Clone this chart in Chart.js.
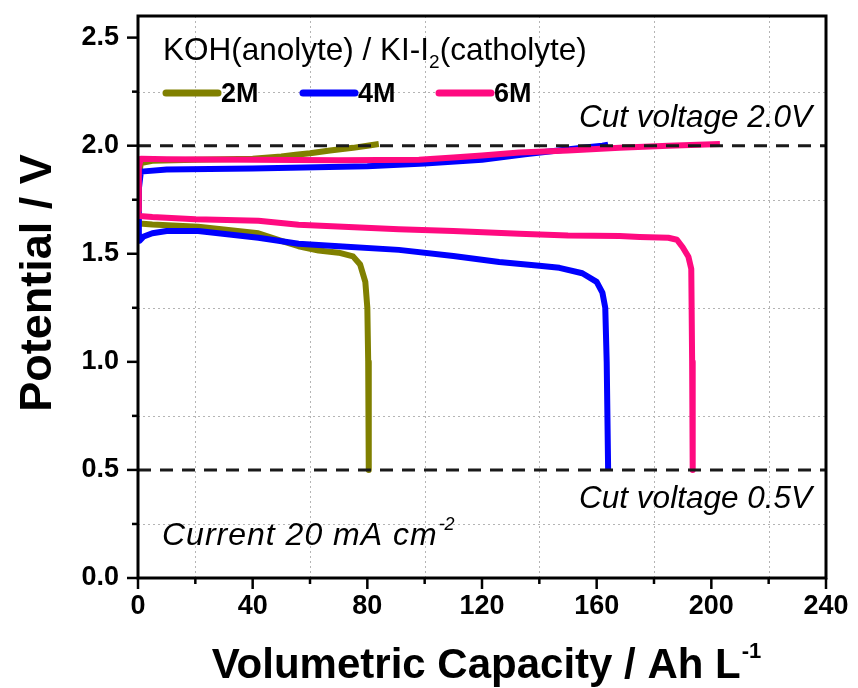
<!DOCTYPE html>
<html><head><meta charset="utf-8">
<script src="https://cdn.jsdelivr.net/npm/chart.js@4.4.1/dist/chart.umd.min.js"></script>
<style>html,body{margin:0;padding:0;background:#fff}</style>
</head><body>
<canvas id="c" width="858" height="688"></canvas>
<script>
// ---- data ----
const seriesNames = ['2M', '4M', '6M'];
const seriesColors = ['#808000', '#0000FF', '#FF0A80'];

const cap2MCharge  = [0, 0.3, 1, 5, 20, 40, 50, 55, 60, 67, 75, 80, 84];
const volt2MCharge = [1.72, 1.86, 1.92, 1.93, 1.935, 1.94, 1.95, 1.958, 1.965, 1.978, 1.99, 2.0, 2.008];
const cap2MDis     = [0, 0.5, 5, 21, 42, 50, 56, 63, 70, 75, 77.5, 79.3, 80, 80.3, 80.5];
const volt2MDis    = [1.66, 1.64, 1.635, 1.625, 1.595, 1.56, 1.535, 1.515, 1.505, 1.488, 1.45, 1.37, 1.25, 1.0, 0.5];

const cap4MCharge  = [0, 0.3, 1, 10, 40, 80, 100, 120, 135, 145, 155, 162, 164];
const volt4MCharge = [1.58, 1.80, 1.88, 1.89, 1.895, 1.905, 1.918, 1.935, 1.96, 1.975, 1.99, 2.0, 2.005];
const cap4MDis     = [0, 0.5, 2, 5, 10, 21, 42, 56, 70, 91, 110, 126, 140, 147, 155, 160, 162, 163, 163.5, 164];
const volt4MDis    = [1.60, 1.56, 1.58, 1.595, 1.605, 1.605, 1.574, 1.546, 1.535, 1.518, 1.49, 1.462, 1.445, 1.435, 1.41, 1.37, 1.32, 1.25, 1.0, 0.5];

const cap6MCharge  = [0, 0.3, 1, 10, 40, 70, 98, 110, 120, 133, 150, 168, 185, 203];
const volt6MCharge = [1.70, 1.90, 1.94, 1.937, 1.935, 1.933, 1.935, 1.945, 1.955, 1.968, 1.978, 1.99, 2.0, 2.008];
const cap6MDis     = [0, 0.5, 5, 20, 42, 56, 91, 110, 133, 150, 168, 175, 185, 188, 190, 192, 193, 193.3, 193.5];
const volt6MDis    = [1.69, 1.675, 1.67, 1.66, 1.653, 1.634, 1.613, 1.605, 1.593, 1.585, 1.582, 1.578, 1.574, 1.565, 1.53, 1.486, 1.43, 1.0, 0.5];

const cutVoltages = [2.0, 0.5];
const xMin = 0, xMax = 240, xMajor = 40, xMinor = 20;
const yMin = 0, yMax = 2.6, yMajor = 0.5, yMinor = 0.25, yLastTick = 2.5;

// ---- build datasets ----
const pairs = (xs, ys) => xs.map((x, i) => ({x, y: ys[i]}));
const curves = [
  [cap2MCharge, volt2MCharge, cap2MDis, volt2MDis],
  [cap4MCharge, volt4MCharge, cap4MDis, volt4MDis],
  [cap6MCharge, volt6MCharge, cap6MDis, volt6MDis]
];
const datasets = [];
curves.forEach((c, i) => {
  const common = {borderColor: seriesColors[i], backgroundColor: seriesColors[i], borderWidth: 6,
    pointRadius: 0, tension: 0, fill: false, order: 3 - i, borderCapStyle: 'butt', borderJoinStyle: 'round'};
  datasets.push(Object.assign({label: seriesNames[i] + ' charge', data: pairs(c[0], c[1])}, common));
  datasets.push(Object.assign({label: seriesNames[i] + ' discharge', data: pairs(c[2], c[3])}, common));
});
cutVoltages.forEach(v => {
  datasets.push({label: 'cut ' + v, data: [{x: xMin, y: v}, {x: xMax, y: v}], borderColor: '#1a1a1a',
    borderWidth: 3, borderDash: [13, 9], pointRadius: 0, order: 0, fill: false});
});

const near = (a, b) => Math.abs(a - b) < 1e-6;
const isMult = (v, s) => near(v / s, Math.round(v / s));

const FONT = '"Liberation Sans", Arial, sans-serif';

function zeroPad(s) { s.paddingTop = 0; s.paddingBottom = 0; s.paddingLeft = 0; s.paddingRight = 0; }

const deco = {
  id: 'deco',
  beforeDatasetsDraw(chart) {
    // dotted grid at minor positions
    const ctx = chart.ctx, a = chart.chartArea, xs = chart.scales.x, ys = chart.scales.y;
    ctx.save();
    ctx.strokeStyle = '#b4b4b4'; ctx.lineWidth = 1; ctx.setLineDash([2, 3]);
    for (let v = xMin + xMinor; v < xMax; v += xMajor) {
      const p = Math.round(xs.getPixelForValue(v)) + 0.5;
      ctx.beginPath(); ctx.moveTo(p, a.top); ctx.lineTo(p, a.bottom); ctx.stroke();
    }
    for (let v = yMin + yMinor; v < yLastTick; v += yMajor) {
      const p = Math.round(ys.getPixelForValue(v)) + 0.5;
      ctx.beginPath(); ctx.moveTo(a.left, p); ctx.lineTo(a.right, p); ctx.stroke();
    }
    ctx.restore();
  },
  afterDraw(chart) {
    const ctx = chart.ctx, a = chart.chartArea, xs = chart.scales.x, ys = chart.scales.y;
    ctx.save();
    // frame
    ctx.strokeStyle = '#000'; ctx.lineWidth = 3;
    ctx.strokeRect(a.left, a.top, a.right - a.left, a.bottom - a.top);
    // tick marks
    ctx.lineWidth = 2.5;
    for (let v = xMin; v <= xMax + 1e-6; v += xMinor) {
      const p = xs.getPixelForValue(v), len = isMult(v, xMajor) ? 11 : 6;
      ctx.beginPath(); ctx.moveTo(p, a.bottom); ctx.lineTo(p, a.bottom + len); ctx.stroke();
    }
    for (let v = yMin; v <= yLastTick + 1e-6; v += yMinor) {
      const p = ys.getPixelForValue(v), len = isMult(v, yMajor) ? 11 : 6;
      ctx.beginPath(); ctx.moveTo(a.left, p); ctx.lineTo(a.left - len, p); ctx.stroke();
    }
    ctx.fillStyle = '#000';
    ctx.textBaseline = 'alphabetic';
    // x axis title
    const t1 = 'Volumetric Capacity / Ah L';
    ctx.font = 'bold 42px ' + FONT;
    const w1 = ctx.measureText(t1).width;
    ctx.font = 'bold 22px ' + FONT;
    const w2 = ctx.measureText('-1').width;
    let x0 = 486 - (w1 + w2) / 2;
    ctx.font = 'bold 42px ' + FONT; ctx.textAlign = 'left';
    ctx.fillText(t1, x0, 678);
    ctx.font = 'bold 22px ' + FONT;
    ctx.fillText('-1', x0 + w1 + 1, 658);
    // y axis title
    ctx.save();
    ctx.translate(51, 283); ctx.rotate(-Math.PI / 2);
    ctx.font = 'bold 45px ' + FONT; ctx.textAlign = 'center';
    ctx.fillText('Potential / V', 0, 0);
    ctx.restore();
    // legend title
    ctx.textAlign = 'left';
    ctx.font = '31.5px ' + FONT;
    let tx = 163;
    const s1 = 'KOH(anolyte) / KI-I';
    ctx.fillText(s1, tx, 60); tx += ctx.measureText(s1).width;
    ctx.font = '19px ' + FONT; ctx.fillText('2', tx, 68); tx += ctx.measureText('2').width;
    ctx.font = '31.5px ' + FONT; ctx.fillText('(catholyte)', tx, 60);
    // legend entries
    const lx = [163, 300, 436];
    ctx.font = 'bold 27px ' + FONT;
    seriesNames.forEach((n, i) => {
      ctx.strokeStyle = seriesColors[i]; ctx.lineWidth = 7; ctx.lineCap = 'round';
      ctx.beginPath(); ctx.moveTo(lx[i] + 3, 93); ctx.lineTo(lx[i] + 55, 93); ctx.stroke();
      ctx.fillText(n, lx[i] + 58, 102);
    });
    // annotations
    ctx.font = 'italic 31.5px ' + FONT; ctx.textAlign = 'right';
    ctx.fillText('Cut voltage 2.0V', 812, 127);
    ctx.fillText('Cut voltage 0.5V', 812, 508);
    ctx.textAlign = 'left';
    const s2 = 'Current 20 mA cm';
    ctx.font = 'italic 32px ' + FONT;
    ctx.letterSpacing = '1px';
    ctx.fillText(s2, 162, 545);
    const ws2 = ctx.measureText(s2).width;
    ctx.letterSpacing = '0px';
    ctx.font = 'italic 18px ' + FONT;
    ctx.fillText('-2', 162 + ws2 + 1, 530);
    ctx.restore();
  }
};

new Chart(document.getElementById('c'), {
  type: 'line',
  data: {datasets},
  options: {
    responsive: false, animation: false,
    layout: {padding: {left: 0, top: 16, right: 32, bottom: 0}},
    plugins: {legend: {display: false}, tooltip: {enabled: false}},
    scales: {
      x: {
        type: 'linear', min: xMin, max: xMax,
        afterFit(s) { s.height = 110; zeroPad(s); },
        border: {display: false},
        grid: {display: false, drawTicks: false},
        ticks: {stepSize: xMinor, autoSkip: false, maxRotation: 0, padding: 12, color: '#000',
          includeBounds: false,
          font: {family: FONT, weight: 'bold', size: 27},
          callback: v => isMult(v, xMajor) ? String(v) : ''}
      },
      y: {
        type: 'linear', min: yMin, max: yMax,
        afterFit(s) { s.width = 138; zeroPad(s); },
        border: {display: false},
        grid: {display: false, drawTicks: false},
        ticks: {stepSize: yMinor, autoSkip: false, padding: 19, color: '#000',
          includeBounds: false,
          font: {family: FONT, weight: 'bold', size: 27},
          callback: v => (v < yLastTick + 0.01 && isMult(v, yMajor)) ? v.toFixed(1) : ''}
      }
    }
  },
  plugins: [deco]
});
</script>
</body></html>
